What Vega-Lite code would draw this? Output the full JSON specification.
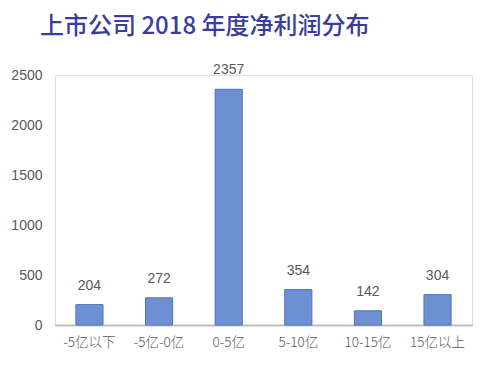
{
  "$schema": "https://vega.github.io/schema/vega-lite/v6.json",
  "width": 417,
  "height": 250,
  "autosize": {"type": "none"},
  "padding": {"left": 55, "top": 75, "right": 19, "bottom": 41},
  "background": "white",
  "title": {
    "text": "上市公司 2018 年度净利润分布",
    "anchor": "start",
    "frame": "group",
    "dx": -15,
    "offset": 24,
    "fontSize": 24,
    "fontWeight": 500,
    "font": "Noto Sans CJK SC",
    "color": "#3b3d9c"
  },
  "data": {
    "values": [
      {"range": "-5亿以下", "count": 204},
      {"range": "-5亿-0亿", "count": 272},
      {"range": "0-5亿", "count": 2357},
      {"range": "5-10亿", "count": 354},
      {"range": "10-15亿", "count": 142},
      {"range": "15亿以上", "count": 304}
    ]
  },
  "encoding": {
    "x": {
      "field": "range",
      "type": "nominal",
      "sort": null,
      "scale": {"paddingInner": 0.61, "paddingOuter": 0.3},
      "axis": {
        "title": null,
        "labelAngle": 0,
        "ticks": false,
        "labelPadding": 10,
        "labelFontSize": 13.5,
        "labelColor": "#595959",
        "labelFont": "Noto Sans CJK SC",
        "labelFontWeight": 300,
        "domainColor": "#bfbfbf",
        "domainWidth": 2
      }
    },
    "y": {
      "field": "count",
      "type": "quantitative",
      "scale": {"domain": [0, 2500]},
      "axis": {
        "title": null,
        "values": [0, 500, 1000, 1500, 2000, 2500],
        "format": "d",
        "grid": false,
        "domain": false,
        "ticks": false,
        "labelPadding": 13,
        "labelFontSize": 14,
        "labelColor": "#595959",
        "labelFont": "Liberation Sans"
      }
    }
  },
  "layer": [
    {
      "mark": {"type": "bar", "color": "#6f8fd3", "stroke": "#4a74c4", "strokeWidth": 1}
    },
    {
      "mark": {"type": "text", "dy": -12, "baseline": "bottom", "fontSize": 14, "color": "#595959", "font": "Liberation Sans"},
      "encoding": {"text": {"field": "count", "type": "quantitative"}}
    }
  ]
}
